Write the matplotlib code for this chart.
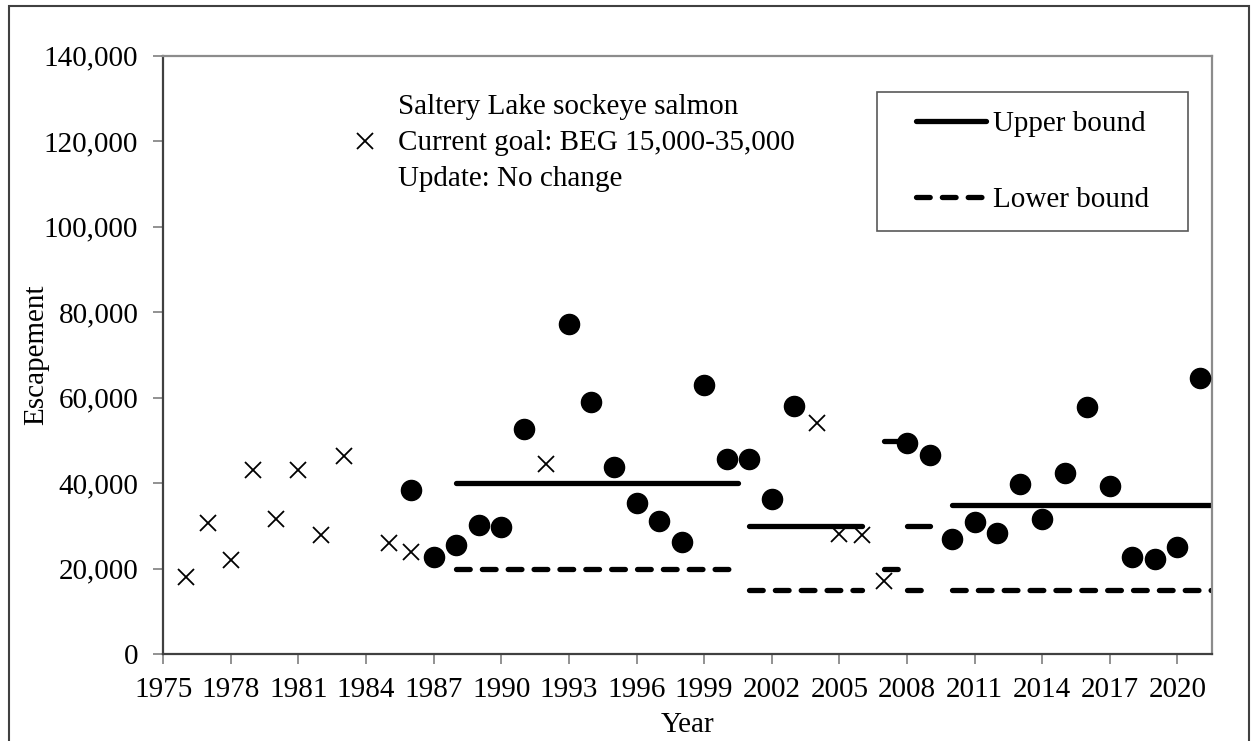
import matplotlib
matplotlib.use('Agg')
import matplotlib.pyplot as plt
from matplotlib.patches import Rectangle
from matplotlib.ticker import FuncFormatter

plt.rcParams['font.family'] = 'serif'
plt.rcParams['font.serif'] = ['Liberation Serif', 'DejaVu Serif']
plt.rcParams['font.size'] = 21

# escapement counts (two survey series)
cross_years = [1976, 1977, 1978, 1979, 1980, 1981, 1982, 1983, 1985, 1986,
               1992, 2004, 2005, 2006, 2007]
cross_esc = [18000, 30800, 22000, 43000, 31600, 43000, 28000, 46400, 26000, 23900,
             44500, 54000, 28100, 27900, 17200]

circle_years = [1986, 1987, 1988, 1989, 1990, 1991,
                1993, 1994, 1995, 1996, 1997, 1998, 1999, 2000, 2001, 2002, 2003,
                2008, 2009, 2010, 2011, 2012, 2013, 2014, 2015, 2016, 2017, 2018,
                2019, 2020, 2021]
circle_esc = [38400, 22700, 25600, 30200, 29800, 52700,
              77200, 59100, 43900, 35500, 31100, 26300, 62900, 45700, 45700, 36400, 58100,
              49400, 46700, 26900, 30900, 28300, 39800, 31700, 42500, 57900, 39400, 22800,
              22200, 25000, 64700]

# escapement goal periods
goal_start = [1988, 2001, 2007, 2008, 2010]
goal_end = [2000.5, 2006, 2008, 2009, 2021.6]
goal_upper = [40000, 30000, 50000, 30000, 35000]
goal_lower = [20000, 15000, 20000, 15000, 15000]

fig = plt.figure(figsize=(12.55, 7.41), dpi=100)
ax = fig.add_axes([0.1301, 0.117, 0.8359, 0.8078])

lw = 3.8
for i in range(len(goal_start)):
    xs = [goal_start[i], goal_end[i]]
    ax.plot(xs, [goal_upper[i]] * 2, color='black', lw=lw, solid_capstyle='round',
            label='Upper bound' if i == 0 else None, zorder=2)
    ax.plot(xs, [goal_lower[i]] * 2, color='black', lw=lw, dashes=(2.6, 2.3),
            dash_capstyle='round', label='Lower bound' if i == 0 else None, zorder=2)

ax.plot(cross_years, cross_esc, ls='none', marker='x', ms=12, mew=1.3, color='black', zorder=3)
ax.plot(circle_years, circle_esc, ls='none', marker='o', ms=14.5, color='black', zorder=3)

ax.set_xlim(1975, 2021.55)
ax.set_ylim(0, 140000)
ax.set_xticks(range(1975, 2021, 3))
ax.set_yticks(range(0, 140001, 20000))
ax.yaxis.set_major_formatter(FuncFormatter(lambda v, p: f'{int(v):,}'))
ax.tick_params(axis='both', direction='out', length=7, width=1.2, color='#7f7f7f')
ax.tick_params(axis='y', pad=11)
ax.tick_params(axis='x', pad=9)

for side in ['left', 'bottom']:
    ax.spines[side].set_color('#404040')
    ax.spines[side].set_linewidth(1.6)
for side in ['top', 'right']:
    ax.spines[side].set_color('#8c8c8c')
    ax.spines[side].set_linewidth(1.6)

ax.set_xlabel('Year')
ax.set_ylabel('Escapement')
ax.xaxis.set_label_coords(0.5002, -0.097)
ax.yaxis.set_label_coords(-0.109, 0.5)

# annotation block with a cross marker
ax.plot([0.1921], [0.8576], ls='none', marker='x', ms=12, mew=1.3, color='black',
        transform=ax.transAxes, clip_on=False)
ax.text(0.2237, 0.8537, 'Saltery Lake sockeye salmon\nCurrent goal: BEG 15,000-35,000\nUpdate: No change',
        transform=ax.transAxes, ha='left', va='center', linespacing=1.5)

# legend frame drawn separately so the padding can differ per side
ax.add_patch(Rectangle((0.6804, 0.7072), 0.9768 - 0.6804, 0.9394 - 0.7072,
                       transform=ax.transAxes, fill=False, edgecolor='#595959', lw=1.2,
                       zorder=4))
leg = ax.legend(loc='upper left', bbox_to_anchor=(0.7175, 0.9076), borderaxespad=0,
                borderpad=0, frameon=False, handlelength=2.4, handletextpad=0.24,
                labelspacing=1.68)

fig.patches.append(Rectangle((9 / 1255, -0.05), 1240 / 1255, 0.05 + 1 - 5.7 / 741,
                             transform=fig.transFigure, fill=False, edgecolor='#404040',
                             lw=1.5))

fig.savefig('out.png', dpi=100)
